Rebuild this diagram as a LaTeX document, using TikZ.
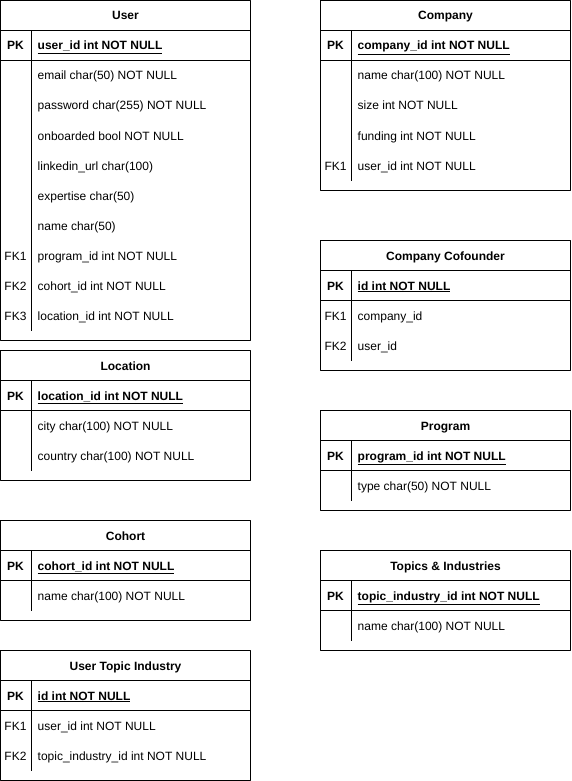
\documentclass[tikz,border=0pt]{standalone}
\usepackage{fontspec}
\setmainfont{Liberation Sans}
\tikzset{
	tblline/.style={line width=1pt,line join=round},
	tbltitle/.style={font=\fontsize{12}{14}\selectfont\bfseries,inner sep=0pt,anchor=base},
	keytag/.style={font=\fontsize{12}{14}\selectfont,inner sep=0pt,anchor=base},
	fieldtxt/.style={font=\fontsize{12}{14}\selectfont,inner sep=0pt,anchor=base west}
}
% #1 name, #2 x, #3 y, #4 title, #5 primary key, #6 number of rows, #7 key/field list
\newcommand{\ertable}[7]{%
	\draw[tblline] (#2,#3) rectangle ++(250,70+30*#6);
	\draw[tblline] (#2,#3+30)--++(250,0);
	\draw[tblline] (#2,#3+60)--++(250,0);
	\draw[tblline] (#2+31,#3+30)--(#2+31,#3+60+30*#6);
	\node[tbltitle] (#1) at (#2+125,#3+19.5) {#4};
	\node[keytag,font=\fontsize{12}{14}\selectfont\bfseries] (#1-pk) at (#2+15,#3+49.5) {PK};
	\node[fieldtxt,font=\fontsize{12}{14}\selectfont\bfseries] (#1-id) at (#2+37,#3+49.5) {\underline{#5}};
	\foreach \k/\t [count=\i] in {#7}{\node[keytag] (#1-k\i) at (#2+15,#3+49.5+30*\i) {\k};\node[fieldtxt] (#1-f\i) at (#2+37,#3+49.5+30*\i) {\t};}
}
\begin{document}
\begin{tikzpicture}[x=1pt,y=-1pt]
	\useasboundingbox (0,0) rectangle (571,781);
	% left column
	\ertable{user}{0.5}{0.5}{User}{user\_id int NOT NULL}{9}{/email char(50) NOT NULL,/password char(255) NOT NULL,/onboarded bool NOT NULL,/linkedin\_url char(100),/expertise char(50),/name char(50),FK1/program\_id int NOT NULL,FK2/cohort\_id int NOT NULL,FK3/location\_id int NOT NULL}
	\ertable{location}{0.5}{350.5}{Location}{location\_id int NOT NULL}{2}{/city char(100) NOT NULL,/country char(100) NOT NULL}
	\ertable{cohort}{0.5}{520.5}{Cohort}{cohort\_id int NOT NULL}{1}{/name char(100) NOT NULL}
	\ertable{usertopic}{0.5}{650.5}{User Topic Industry}{id int NOT NULL}{2}{FK1/user\_id int NOT NULL,FK2/topic\_industry\_id int NOT NULL}
	% right column
	\ertable{company}{320.5}{0.5}{Company}{company\_id int NOT NULL}{4}{/name char(100) NOT NULL,/size int NOT NULL,/funding int NOT NULL,FK1/user\_id int NOT NULL}
	\ertable{cofounder}{320.5}{240.5}{Company Cofounder}{id int NOT NULL}{2}{FK1/company\_id,FK2/user\_id}
	\ertable{program}{320.5}{410.5}{Program}{program\_id int NOT NULL}{1}{/type char(50) NOT NULL}
	\ertable{topic}{320.5}{550.5}{Topics \& Industries}{topic\_industry\_id int NOT NULL}{1}{/name char(100) NOT NULL}
\end{tikzpicture}
\end{document}
